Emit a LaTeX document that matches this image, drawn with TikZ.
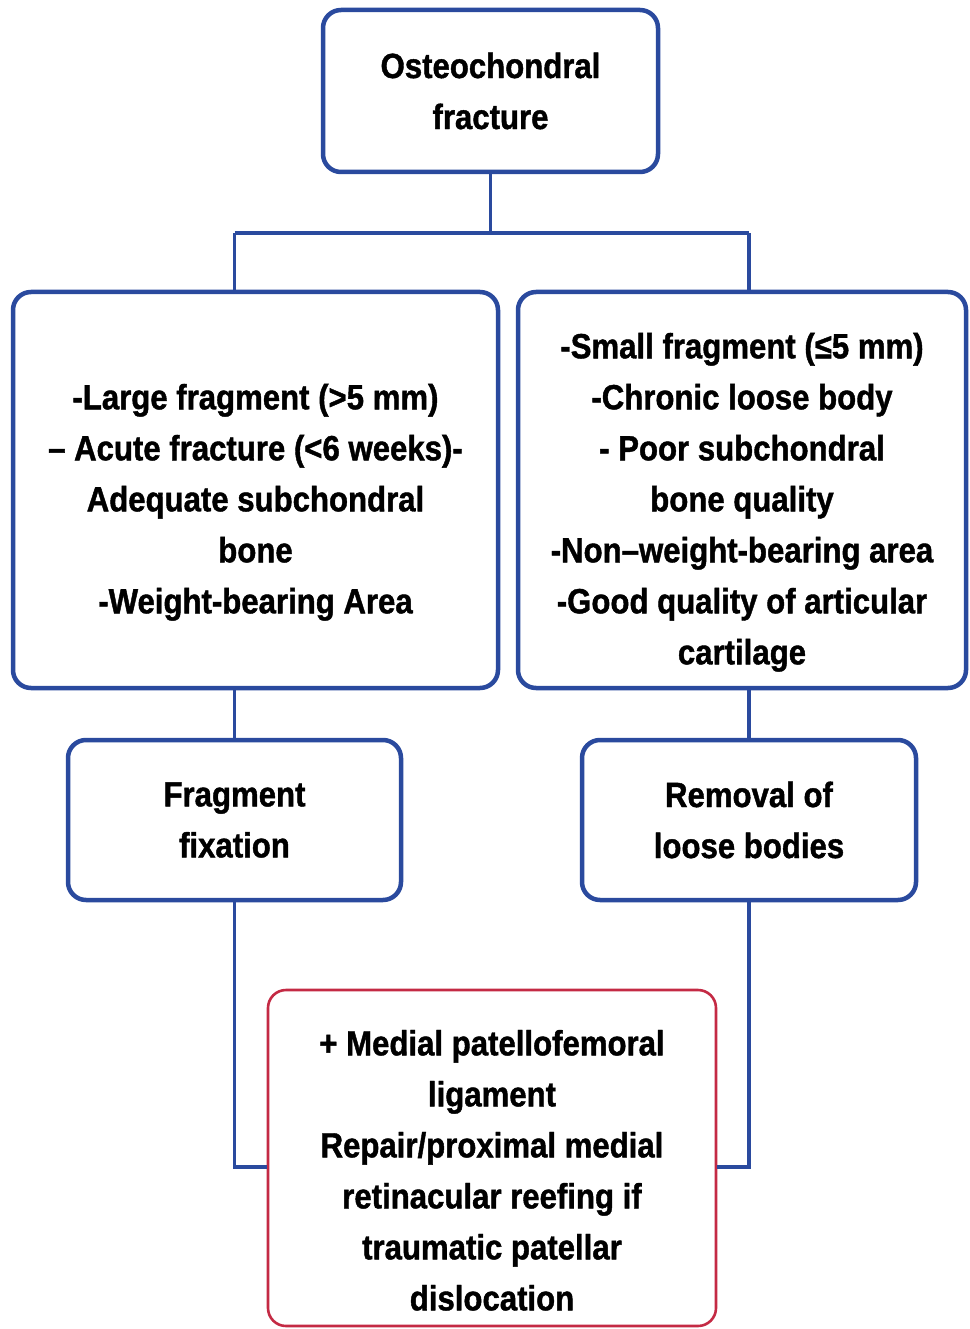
\documentclass[tikz,border=0pt]{standalone}
\usepackage{fontspec}
\setmainfont[FakeStretch=0.89,BoldFeatures={FakeBold=1.2}]{Liberation Sans}
\usepackage{tikz}
\usetikzlibrary{positioning,calc}
\definecolor{FlowBlue}{HTML}{2A4A9E}
\definecolor{FlowRed}{HTML}{C42A44}
\newcommand{\lowtext}{\rule{0pt}{50pt}}
\tikzset{box/.style={draw=FlowBlue,line width=4.5pt,rounded corners=18pt,fill=white,
 align=center,inner sep=0pt,font=\fontsize{35}{51}\selectfont\bfseries},
 redbox/.style={box,draw=FlowRed,line width=2.6pt},
 link/.style={draw=FlowBlue,line width=3.6pt}}

\begin{document}
\begin{tikzpicture}[x=1pt,y=-1pt]
\useasboundingbox (0,0) rectangle (969,1329);
\node[box,minimum width=335pt,minimum height=162pt] (top) at (490.5,91)
 {Osteochondral\\fracture};
\node[box,minimum width=485pt,minimum height=396pt] (lb) at (255.5,490)
 {\lowtext-Large fragment (>5 mm)\\– Acute fracture (<6 weeks)-\\Adequate subchondral\\bone\\-Weight-bearing Area};
\node[box,minimum width=448pt,minimum height=396pt] (rb) at (742,490)
 {\lowtext-Small fragment (≤5 mm)\\-Chronic loose body\\- Poor subchondral\\bone quality\\-Non–weight-bearing area\\-Good quality of articular\\cartilage};
\node[box,minimum width=333pt,minimum height=160pt] (fix) at (234.5,820)
 {Fragment\\fixation};
\node[box,minimum width=334pt,minimum height=160pt] (rem) at (749,820)
 {Removal of\\loose bodies};
\node[redbox,minimum width=448pt,minimum height=336pt] (mpfl) at (492,1158)
 {\lowtext+ Medial patellofemoral\\ligament\\Repair/proximal medial\\retinacular reefing if\\traumatic patellar\\dislocation};
\coordinate (bar) at (0,233);
\coordinate (low) at (0,1167);
% tree lines
\draw[link] (top.south) -- (top.south |- bar);
\draw[link] (fix |- bar) -- (rem |- bar);
\draw[link] (fix |- bar) -- (fix |- lb.north);
\draw[link] (rem |- bar) -- (rem |- rb.north);
\draw[link] (fix |- lb.south) -- (fix.north);
\draw[link] (rem |- rb.south) -- (rem.north);
\draw[link] (fix.south) |- (mpfl.west |- low);
\draw[link] (rem.south) |- (mpfl.east |- low);
\end{tikzpicture}
\end{document}
